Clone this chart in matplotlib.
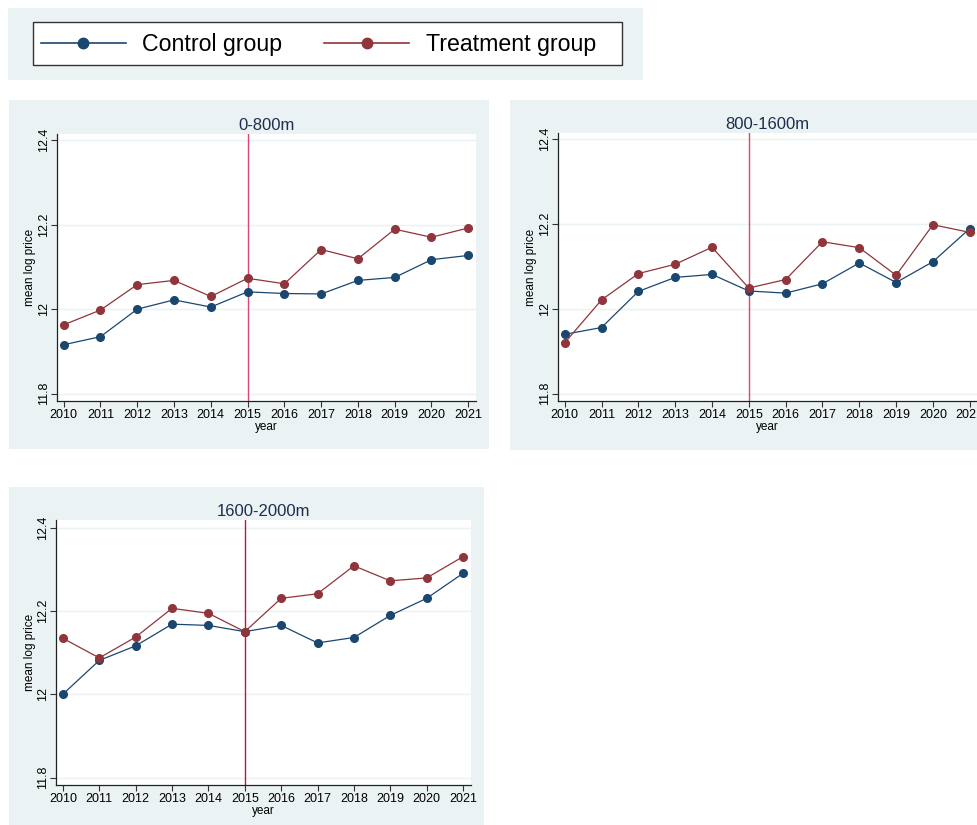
import numpy as np
import matplotlib
matplotlib.use("Agg")
import matplotlib.pyplot as plt
from matplotlib.patches import Rectangle
from matplotlib.lines import Line2D
from matplotlib.ticker import FixedLocator, FuncFormatter

plt.rcParams['font.family'] = ['Liberation Sans', 'DejaVu Sans']

# data
years = [2010, 2011, 2012, 2013, 2014, 2015, 2016, 2017, 2018, 2019, 2020, 2021]

ctrl_0_800 = [11.916, 11.935, 12.000, 12.022, 12.005, 12.041, 12.037, 12.036, 12.068, 12.075, 12.117, 12.127]
treat_0_800 = [11.963, 11.998, 12.058, 12.068, 12.030, 12.073, 12.060, 12.141, 12.119, 12.189, 12.170, 12.192]

ctrl_800_1600 = [11.940, 11.956, 12.041, 12.074, 12.081, 12.042, 12.037, 12.059, 12.108, 12.062, 12.111, 12.189]
treat_800_1600 = [11.920, 12.021, 12.083, 12.105, 12.145, 12.049, 12.069, 12.158, 12.144, 12.079, 12.198, 12.180]

ctrl_1600_2000 = [12.000, 12.081, 12.116, 12.168, 12.165, 12.150, 12.165, 12.123, 12.136, 12.189, 12.230, 12.290]
treat_1600_2000 = [12.134, 12.087, 12.137, 12.206, 12.194, 12.150, 12.230, 12.241, 12.308, 12.272, 12.279, 12.330]

yticks = [11.8, 12.0, 12.2, 12.4]
cutoff_year = 2015

navy = '#1a476f'
maroon = '#90353b'
bg = '#eaf2f3'
title_col = '#1c2d4f'

W, H = 978, 825
fig = plt.figure(figsize=(W / 100, H / 100), dpi=100, facecolor='white')


def px_rect(x0, y0, x1, y1):
    # pixel box (top-left origin) -> figure fraction [l, b, w, h]
    return [x0 / W, 1 - y1 / H, (x1 - x0) / W, (y1 - y0) / H]


def add_bg(x0, y0, x1, y1):
    l, b, w, h = px_rect(x0, y0, x1, y1)
    fig.add_artist(Rectangle((l, b), w, h, transform=fig.transFigure,
                             facecolor=bg, edgecolor='none', zorder=0))


def panel(plot_box, title, ctrl, treat, vcol, ylim):
    ax = fig.add_axes(px_rect(*plot_box))
    ax.set_facecolor('white')
    ax.set_zorder(2)
    for y in yticks:
        ax.axhline(y, color=bg, lw=1.0, zorder=1)
    ax.axvline(cutoff_year, color=vcol, lw=1.0, zorder=2)
    ax.plot(years, ctrl, color=navy, lw=0.9, marker='o', ms=5.5, zorder=3)
    ax.plot(years, treat, color=maroon, lw=0.9, marker='o', ms=5.5, zorder=4)
    ax.set_xlim(2009.81, 2021.21)
    ax.set_ylim(*ylim)
    ax.set_xticks(years)
    ax.yaxis.set_major_locator(FixedLocator(yticks))
    ax.yaxis.set_major_formatter(FuncFormatter(lambda v, p: '%g' % round(v, 1)))
    for lab in ax.get_yticklabels():
        lab.set_rotation(90)
        lab.set_va('center')
    ax.tick_params(axis='both', labelsize=9, length=4, width=0.8, color='#333333', pad=2)
    ax.tick_params(axis='y', pad=1)
    for s in ['top', 'right']:
        ax.spines[s].set_visible(False)
    for s in ['left', 'bottom']:
        ax.spines[s].set_color('#222222')
        ax.spines[s].set_linewidth(0.9)
    ax.set_xlabel('year', fontsize=8.5, labelpad=0)
    ax.set_ylabel('mean log price', fontsize=8.5, labelpad=1)
    ax.set_title(title, fontsize=12, color=title_col, pad=3)
    return ax


# legend strip
add_bg(8, 8, 643, 80)
l, b, w, h = px_rect(32.7, 21.7, 621.7, 65)
fig.add_artist(Rectangle((l, b), w, h, transform=fig.transFigure,
                         facecolor='white', edgecolor='#333333', lw=1.0, zorder=1))
handles = [Line2D([], [], color=navy, lw=1.2, marker='o', ms=7.5),
           Line2D([], [], color=maroon, lw=1.2, marker='o', ms=7.5)]
fig.legend(handles, ['Control group', 'Treatment group'], ncol=2, frameon=False,
           loc='center left', bbox_to_anchor=(41 / W, b + h / 2 - 1 / H), fontsize=16.7,
           handlelength=3.65, handletextpad=0.72, columnspacing=1.8,
           borderpad=0, borderaxespad=0)

# panels
add_bg(9, 100, 489, 449)
panel((56.7, 134, 476, 401), '0-800m', ctrl_0_800, treat_0_800, '#d9466f', (11.783, 12.414))

add_bg(510, 100, 995, 450)
panel((557.7, 133, 977.5, 401), '800-1600m', ctrl_800_1600, treat_800_1600, '#d9466f', (11.783, 12.414))

add_bg(9, 487, 484, 830)
panel((56, 520, 470.7, 785), '1600-2000m', ctrl_1600_2000, treat_1600_2000, '#c0163d', (11.782, 12.418))

fig.savefig('out.png', dpi=100, facecolor='white')
